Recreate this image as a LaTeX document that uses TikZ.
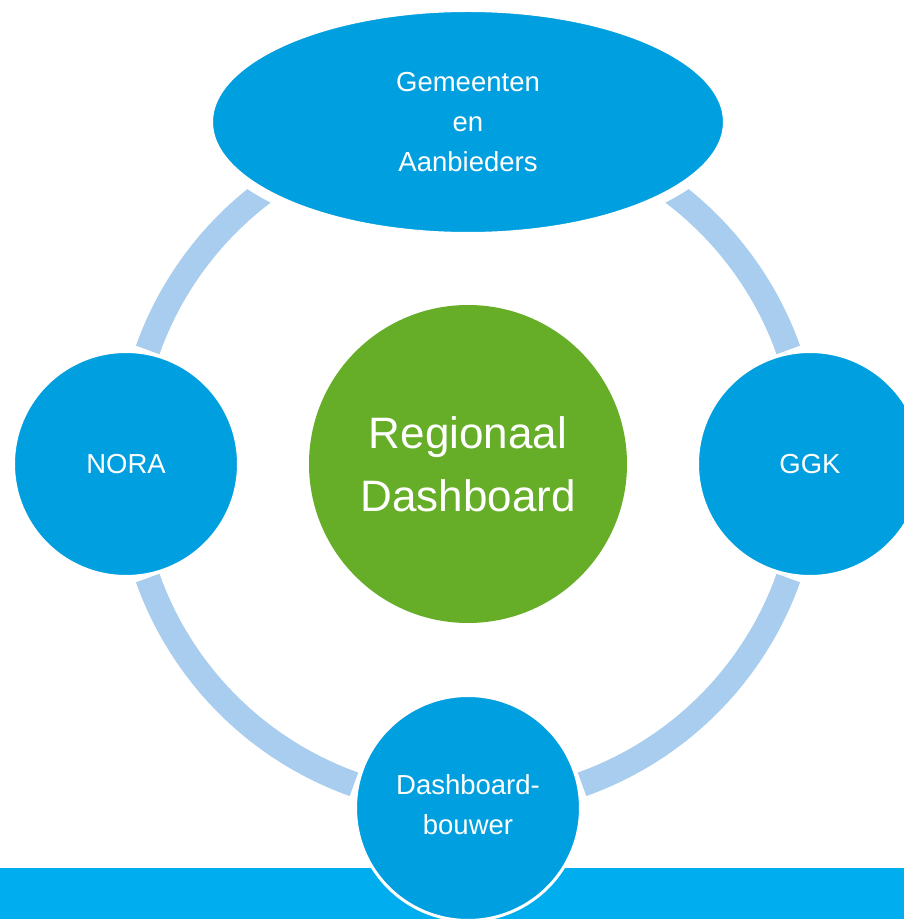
\documentclass[tikz,border=0pt]{standalone}
\usepackage{fontspec}
\setmainfont{Liberation Sans}
\usetikzlibrary{calc,shapes.geometric}
\definecolor{barblue}{HTML}{00AEEF}
\definecolor{nodeblue}{HTML}{009FDF}
\definecolor{ringblue}{HTML}{A9CDEE}
\definecolor{hubgreen}{HTML}{66AE28}
\tikzset{
  ringarc/.style={draw=ringblue, line width=25pt, line cap=butt},
  actor/.style={circle, fill=nodeblue, draw=white, line width=3pt, minimum size=225pt, inner sep=0pt,
    text=white, align=center, font=\fontsize{27.5}{40}\selectfont},
  hub/.style={circle, fill=hubgreen, minimum size=318pt, inner sep=0pt,
    text=white, align=center, font=\fontsize{44}{63}\selectfont},
  topactor/.style={ellipse, fill=nodeblue, draw=white, line width=10pt, minimum width=520pt, minimum height=230pt, inner sep=0pt,
    text=white, align=center, font=\fontsize{27.5}{40}\selectfont}
}
\begin{document}
\begin{tikzpicture}[x=1pt,y=1pt]
\useasboundingbox (0,0) rectangle (904,919);
\fill[white] (0,0) rectangle (904,919);
\fill[barblue] (0,0) rectangle (904,51);
\coordinate (c) at (468,455);
\draw[ringarc] ($(c)+(19.6:340)$) arc[start angle=19.6, end angle=75, radius=340];
\draw[ringarc] ($(c)+(105:340)$) arc[start angle=105, end angle=160.4, radius=340];
\draw[ringarc] ($(c)+(199.6:340)$) arc[start angle=199.6, end angle=250.4, radius=340];
\draw[ringarc] ($(c)+(289.6:340)$) arc[start angle=289.6, end angle=340.4, radius=340];
\node[topactor] (gem) at (468,797) {Gemeenten\\en\\Aanbieders};
\node[actor] (nora) at (126,455) {NORA};
\node[actor] (ggk) at (810,455) {GGK};
\node[actor] (bouw) at (468,111) {};
\node[text=white, align=center, font=\fontsize{27.5}{40}\selectfont] (bouwtxt) at (468,114) {Dashboard-\\bouwer};
\node[hub] (hub) at (c) {Regionaal\\Dashboard};
\end{tikzpicture}
\end{document}
